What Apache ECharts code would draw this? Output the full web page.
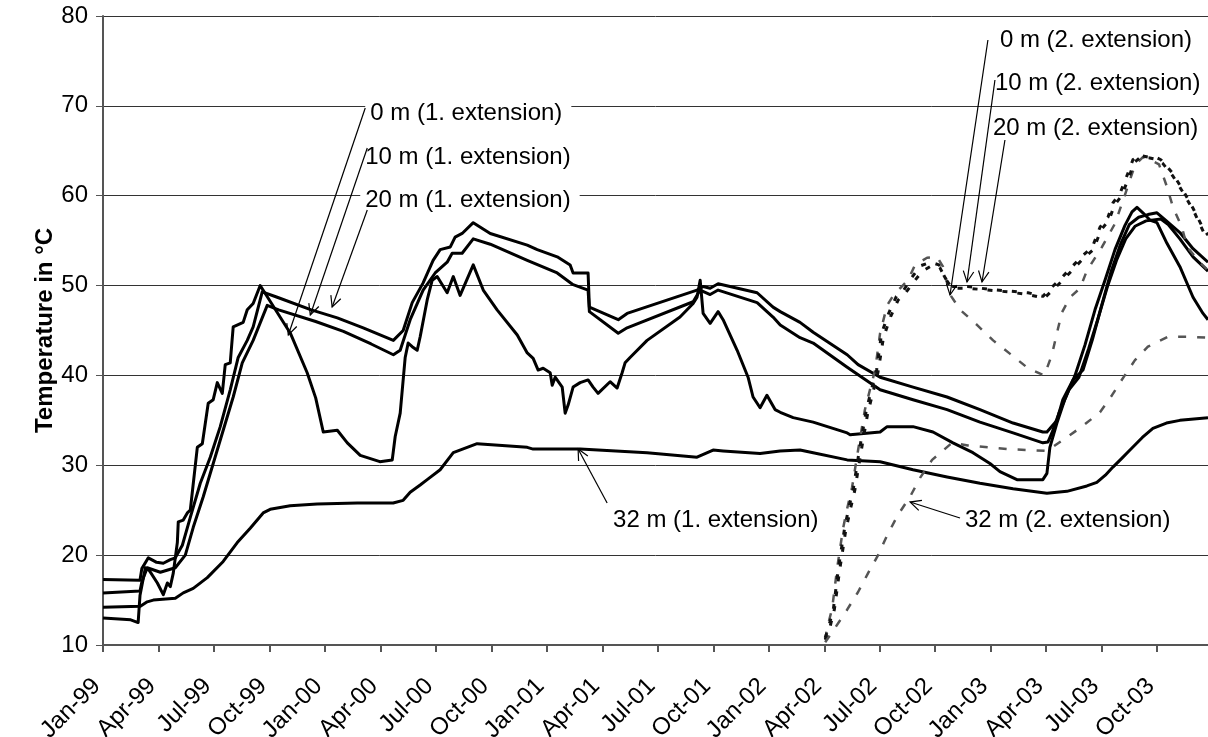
<!DOCTYPE html>
<html>
<head>
<meta charset="utf-8">
<script src="https://cdn.jsdelivr.net/npm/echarts/dist/echarts.min.js"></script>
<style>
html,body{margin:0;padding:0;background:#fff;}
#c{width:1208px;height:737px;}
</style>
</head>
<body>
<div id="c"></div>
<script>
// x = months since Jan-99, y = temperature in °C
const xTickLabels = ['Jan-99','Apr-99','Jul-99','Oct-99','Jan-00','Apr-00','Jul-00','Oct-00','Jan-01','Apr-01','Jul-01','Oct-01','Jan-02','Apr-02','Jul-02','Oct-02','Jan-03','Apr-03','Jul-03','Oct-03'];

const t0m1 = [[0,13.0],[1.5,12.8],[1.9,12.5],[2.0,15.5],[2.29,18.6],[2.5,18.3],[2.94,16.9],[3.26,15.6],[3.48,16.9],[3.64,16.5],[3.8,18.0],[4.02,21.4],[4.07,23.7],[4.34,23.9],[4.56,24.7],[4.72,25.0],[5.1,32.0],[5.37,32.4],[5.69,36.9],[5.96,37.3],[6.18,39.2],[6.45,38.0],[6.61,41.2],[6.88,41.4],[7.04,45.4],[7.58,45.9],[7.8,47.3],[8.12,48.0],[8.5,50.0],[10.13,44.7],[11.04,40.3],[11.5,37.5],[11.91,33.7],[12.67,33.9],[13.21,32.5],[13.91,31.1],[14.97,30.4],[15.64,30.6],[15.8,33.2],[16.07,35.8],[16.34,42.0],[16.5,43.6],[16.72,43.2],[16.99,42.8],[17.15,44.3],[17.53,48.4],[17.8,50.6],[18.07,51.0],[18.61,49.2],[18.94,51.0],[19.31,48.9],[20.02,52.3],[20.56,49.5],[21.31,47.3],[22.4,44.5],[22.94,42.5],[23.26,41.9],[23.53,40.6],[23.8,40.8],[24.18,40.3],[24.29,38.9],[24.45,39.8],[24.83,38.7],[24.99,35.8],[25.15,36.7],[25.42,38.7],[25.8,39.2],[26.23,39.5],[26.5,38.7],[26.77,38.0],[27.42,39.3],[27.8,38.6],[28.07,40.3],[28.23,41.4],[28.5,42.0],[29.42,43.9],[31.2,46.5],[31.91,48.0],[32.12,48.7],[32.29,50.6],[32.45,46.9],[32.83,45.8],[33.26,47.1],[33.53,46.2],[34.29,42.8],[34.88,39.8],[35.15,37.6],[35.53,36.4],[35.9,37.8],[36.34,36.2],[36.62,35.9],[37.32,35.3],[38.4,34.8],[40.24,33.6],[40.4,33.4],[42.02,33.7],[42.4,34.3],[43.8,34.3],[44.88,33.7],[45.96,32.5],[47.04,31.4],[47.96,30.2],[48.5,29.3],[49.42,28.4],[50.82,28.4],[51.04,29.1],[51.2,32.0],[51.58,34.7],[52.0,37.3],[52.56,40.0],[53.1,43.4],[53.64,47.3],[54.18,50.6],[54.72,54.0],[55.26,56.7],[55.64,58.2],[55.91,58.7],[56.23,58.1],[56.61,57.3],[56.99,57.0],[57.53,54.7],[58.23,52.1],[58.94,48.7],[59.48,46.9],[59.75,46.2]];

const t10m1 = [[0,17.3],[2.0,17.2],[2.1,18.5],[2.45,19.7],[2.9,19.2],[3.26,19.1],[3.64,19.5],[3.91,19.7],[4.29,21.1],[4.72,24.2],[5.26,28.0],[5.8,30.9],[6.34,34.3],[6.88,38.4],[7.31,42.0],[7.8,43.9],[8.12,45.4],[8.61,49.3],[9.42,48.7],[11.26,47.3],[12.67,46.4],[14.07,45.3],[15.7,43.9],[16.23,45.0],[16.72,48.1],[17.31,50.3],[17.85,52.8],[18.23,54.0],[18.78,54.3],[19.04,55.4],[19.42,55.8],[20.02,57.0],[20.94,55.8],[22.94,54.5],[23.48,54.0],[24.56,53.2],[25.26,52.3],[25.42,51.4],[26.23,51.4],[26.3,47.6],[27.86,46.2],[28.34,46.9],[32.12,49.5],[32.45,49.9],[32.83,49.7],[33.26,50.2],[35.37,49.2],[36.23,47.6],[36.62,47.1],[37.69,45.9],[38.4,44.8],[40.24,42.3],[40.83,41.2],[42.02,39.8],[43.8,38.7],[45.64,37.6],[47.42,36.2],[49.21,34.7],[50.82,33.7],[51.04,33.7],[51.58,35.0],[51.9,37.3],[52.45,39.5],[52.99,40.6],[53.5,44.0],[54.0,47.8],[54.5,51.5],[55.0,54.5],[55.5,56.8],[56.0,57.6],[56.5,57.9],[56.99,58.1],[57.5,57.2],[58.23,55.9],[58.94,54.1],[59.75,52.6]];

const t20m1 = [[0,15.8],[2.0,16.0],[2.1,17.0],[2.39,18.6],[3.1,18.1],[3.91,18.6],[4.45,20.0],[4.88,23.1],[5.42,26.5],[5.96,30.2],[6.5,33.9],[7.04,37.6],[7.53,41.4],[8.12,43.9],[8.88,47.8],[9.5,47.3],[11.5,46.0],[13.0,44.9],[14.5,43.5],[15.7,42.3],[16.07,42.8],[16.61,46.2],[17.31,49.5],[17.96,51.4],[18.61,52.6],[18.88,53.6],[19.42,53.6],[20.02,55.2],[20.94,54.6],[22.94,52.8],[24.56,51.4],[25.42,50.1],[26.23,49.5],[26.3,47.1],[27.86,44.7],[28.34,45.3],[31.91,48.2],[32.29,49.5],[32.83,49.0],[33.26,49.5],[35.37,48.1],[36.23,46.5],[36.62,45.6],[37.69,44.2],[38.4,43.6],[40.24,40.9],[42.02,38.4],[43.8,37.3],[45.64,36.2],[47.42,34.8],[49.21,33.6],[50.82,32.5],[51.1,32.6],[51.31,33.6],[51.69,35.8],[52.23,38.4],[52.77,39.8],[53.3,43.0],[53.8,46.3],[54.3,49.8],[54.8,52.8],[55.3,55.2],[55.8,56.6],[56.4,57.2],[57.2,57.4],[57.6,56.8],[58.23,55.2],[58.94,53.2],[59.75,51.6]];

const t32m1 = [[0,14.2],[2.02,14.3],[2.39,14.8],[2.72,15.0],[3.91,15.2],[4.34,15.8],[4.88,16.3],[5.64,17.5],[6.5,19.3],[7.26,21.4],[7.96,23.0],[8.66,24.7],[9.04,25.1],[10.12,25.5],[11.58,25.7],[13.75,25.8],[15.69,25.8],[16.23,26.1],[16.61,27.0],[17.15,27.8],[17.53,28.4],[18.23,29.5],[18.94,31.4],[20.23,32.4],[22.94,32.0],[23.26,31.8],[25.8,31.8],[29.42,31.4],[32.12,30.9],[32.99,31.7],[33.53,31.6],[35.53,31.3],[36.61,31.6],[37.69,31.7],[38.4,31.4],[40.24,30.6],[42.02,30.4],[43.8,29.5],[45.64,28.7],[47.42,28.0],[49.21,27.4],[51.04,26.9],[52.12,27.1],[53.2,27.7],[53.74,28.1],[54.2,28.9],[54.61,29.8],[55.1,30.8],[55.53,31.7],[56.2,33.1],[56.77,34.1],[57.5,34.7],[58.23,35.0],[59.75,35.3]];

const t0m2 = [[39.05,10.6],[39.16,11.9],[39.43,14.1],[39.7,18.6],[40.02,23.0],[40.24,25.2],[40.5,27.5],[40.83,31.7],[41.2,36.2],[41.47,38.4],[41.75,40.6],[42.02,44.7],[42.4,47.8],[42.83,49.2],[43.1,49.7],[43.53,50.6],[43.91,52.3],[44.56,53.1],[45.1,53.2],[45.42,52.1],[45.8,49.0],[46.35,47.3],[47.27,45.6],[48.13,43.9],[49.05,42.4],[50.02,40.8],[50.9,40.0],[51.31,42.3],[51.58,44.7],[51.85,47.0],[52.29,48.7],[52.83,49.7],[53.21,51.7],[54.02,54.3],[54.72,56.9],[55.26,60.1],[55.8,63.4],[56.23,64.3],[56.61,64.0],[57.1,63.5],[57.53,61.0],[57.86,58.7],[58.34,56.5],[58.62,54.3],[59.3,52.6],[59.75,51.7]];

const t10m2 = [[39.05,10.8],[39.2,11.7],[39.5,14.1],[39.77,18.6],[40.1,23.0],[40.32,25.2],[40.58,27.5],[40.9,31.7],[41.28,36.2],[41.55,38.4],[41.83,40.6],[42.1,44.7],[42.5,47.0],[42.9,48.8],[43.3,49.5],[43.7,50.8],[44.2,52.2],[44.75,52.6],[45.2,52.3],[45.5,51.0],[45.8,49.9],[46.77,49.9],[47.85,49.6],[48.93,49.4],[50.02,49.2],[50.82,48.8],[51.2,49.6],[51.85,50.9],[52.4,52.1],[52.9,53.2],[53.5,54.3],[53.91,56.5],[54.34,57.6],[54.61,59.2],[55.0,60.3],[55.42,62.5],[55.69,64.0],[56.0,64.5],[56.5,64.3],[57.0,64.2],[57.2,64.0],[57.8,62.6],[58.4,60.6],[58.94,58.6],[59.48,56.4],[59.75,55.6]];

const t20m2 = [[39.05,10.6],[39.25,11.5],[39.55,14.0],[39.83,18.3],[40.15,22.6],[40.4,25.0],[40.65,27.2],[40.98,31.4],[41.35,35.8],[41.62,38.0],[41.9,40.3],[42.2,44.2],[42.6,46.6],[43.0,48.4],[43.4,49.2],[43.8,50.3],[44.3,51.6],[44.8,52.2],[45.25,52.0],[45.55,50.8],[45.9,49.7],[46.77,49.7],[47.85,49.5],[48.93,49.3],[50.02,49.0],[50.9,48.6],[51.3,49.4],[51.9,50.6],[52.45,51.8],[52.95,52.9],[53.55,54.0],[53.97,56.2],[54.4,57.3],[54.68,58.9],[55.08,60.0],[55.5,62.2],[55.76,63.7],[56.1,64.3],[56.6,64.2],[57.05,64.0],[57.3,63.6],[57.85,62.2],[58.45,60.2],[59.0,58.2],[59.5,56.0],[59.75,55.1]];

const t32m2 = [[39.05,10.3],[39.58,11.9],[40.23,13.9],[40.83,15.9],[41.37,18.0],[41.91,20.0],[42.4,22.2],[42.99,24.5],[43.64,26.5],[44.18,28.6],[44.83,30.6],[45.91,32.5],[46.77,32.2],[47.85,32.0],[48.93,31.8],[50.02,31.7],[51.04,31.6],[51.9,32.8],[52.93,34.3],[53.91,35.9],[54.56,37.8],[55.15,39.7],[55.8,41.7],[56.5,43.2],[57.59,44.3],[58.78,44.3],[59.75,44.2]];

// callouts: text anchor (left edge of text), leader start, arrow tip (data coordinates)
const callouts = [
  {text:'0 m (1. extension)',  at:[14.45,69.2],  from:[14.18,69.76], to:[10.02,44.5]},
  {text:'10 m (1. extension)', at:[14.18,64.31], from:[14.29,65.31], to:[11.21,46.72]},
  {text:'20 m (1. extension)', at:[14.18,59.52], from:[14.29,58.41], to:[12.39,47.61]},
  {text:'32 m (1. extension)', at:[27.58,23.91], from:[27.26,25.8],  to:[25.69,31.81]},
  {text:'0 m (2. extension)',  at:[48.5,77.33],  from:[47.85,77.33], to:[45.8,48.95]},
  {text:'10 m (2. extension)', at:[48.23,72.54], from:[48.23,72.88], to:[46.72,50.4]},
  {text:'20 m (2. extension)', at:[48.12,67.53], from:[48.77,66.2],  to:[47.53,50.4]},
  {text:'32 m (2. extension)', at:[46.61,23.91], from:[46.34,24.13], to:[43.64,25.91]}
];

const FONT = '"Liberation Sans", Arial, sans-serif';
const chart = echarts.init(document.getElementById('c'), null, {renderer:'canvas'});

function solid(name, data){
  return {name, type:'line', data, showSymbol:false, symbol:'none', silent:true,
    lineStyle:{color:'#000', width:3, type:'solid', join:'round'}, z:2};
}
function dashed(name, data, color, width, dash){
  return {name, type:'line', data, showSymbol:false, symbol:'none', silent:true,
    lineStyle:{color, width, type:dash, join:'round'}, z:3};
}

const option = {
  animation:false,
  backgroundColor:'#fff',
  textStyle:{fontFamily:FONT},
  grid:{left:103, top:16, right:0, bottom:92, containLabel:false, outerBoundsMode:'none'},
  xAxis:{
    type:'value', min:0, max:59.75, interval:3,
    axisLine:{show:true, lineStyle:{color:'#555', width:2}},
    axisTick:{show:true, inside:false, length:7, lineStyle:{color:'#555', width:2}},
    splitLine:{show:false},
    axisLabel:{
      rotate:45, margin:31, color:'#000', fontSize:24, fontFamily:FONT, padding:[0,9,0,0],
      showMaxLabel:false, showMinLabel:true, hideOverlap:false,
      formatter:function(v){
        const i = Math.round(v/3);
        return (Math.abs(v - i*3) < 1e-6 && i < xTickLabels.length) ? xTickLabels[i] : '';
      }
    }
  },
  yAxis:{
    type:'value', min:10, max:80, interval:10,
    name:'Temperature in °C', nameLocation:'middle', nameRotate:90, nameGap:46, nameMoveOverlap:false,
    nameTextStyle:{fontSize:24, fontWeight:'bold', color:'#000', fontFamily:FONT},
    axisLine:{show:true, lineStyle:{color:'#555', width:2}},
    axisTick:{show:true, inside:false, length:7, lineStyle:{color:'#555', width:1}},
    splitLine:{show:true, lineStyle:{color:'#333', width:1}},
    axisLabel:{color:'#000', fontSize:24, fontFamily:FONT, margin:15}
  },
  series:[
    solid('0 m (1. extension)', t0m1),
    solid('10 m (1. extension)', t10m1),
    solid('20 m (1. extension)', t20m1),
    solid('32 m (1. extension)', t32m1),
    dashed('0 m (2. extension)', t0m2, '#555', 2.5, [8,11]),
    dashed('10 m (2. extension)', t10m2, '#111', 3, [5,10]),
    dashed('20 m (2. extension)', t20m2, '#111', 3, [5,10]),
    dashed('32 m (2. extension)', t32m2, '#555', 2.5, [8,11])
  ]
};
chart.setOption(option);

function drawCallouts(){
  const els = [];
  const padL = 5;
  callouts.forEach(function(c, k){
    const a = chart.convertToPixel({gridIndex:0}, c.at);
    const f = chart.convertToPixel({gridIndex:0}, c.from);
    const t = chart.convertToPixel({gridIndex:0}, c.to);
    els.push({type:'text', id:'t'+k, x:a[0]-padL, y:a[1], z:100,
      style:{text:c.text, fill:'#000', fontSize:24, fontFamily:FONT,
        align:'left', verticalAlign:'middle', backgroundColor:'#fff', padding:[2,9,2,padL]}});
    els.push({type:'line', id:'l'+k, z:101,
      shape:{x1:f[0], y1:f[1], x2:t[0], y2:t[1]},
      style:{stroke:'#000', lineWidth:1.2}});
    const dx = t[0]-f[0], dy = t[1]-f[1], len = Math.hypot(dx,dy);
    const ux = dx/len, uy = dy/len, L = 12, ang = 26*Math.PI/180;
    const p1 = [t[0] - L*(ux*Math.cos(ang) - uy*Math.sin(ang)), t[1] - L*(uy*Math.cos(ang) + ux*Math.sin(ang))];
    const p2 = [t[0] - L*(ux*Math.cos(-ang) - uy*Math.sin(-ang)), t[1] - L*(uy*Math.cos(-ang) + ux*Math.sin(-ang))];
    els.push({type:'polyline', id:'h'+k, z:101,
      shape:{points:[p1, t, p2]},
      style:{stroke:'#000', lineWidth:1.2, fill:null}});
  });
  chart.setOption({graphic:els});
}
drawCallouts();
</script>
</body>
</html>
